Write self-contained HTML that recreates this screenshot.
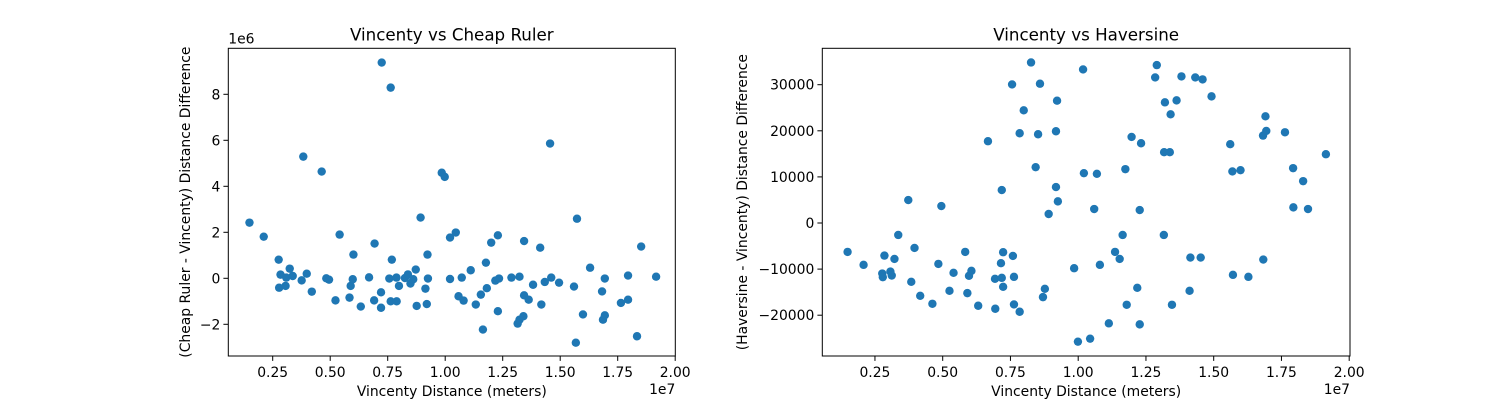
<!DOCTYPE html>
<html>
<head>
<meta charset="utf-8">
<style>
html,body{margin:0;padding:0;background:#fff;}
svg{display:block;font-family:"DejaVu Sans","Liberation Sans",sans-serif;}
</style>
</head>
<body>
<svg id="fig" width="1500" height="400" viewBox="0 0 1500 400" xmlns="http://www.w3.org/2000/svg">
  <rect width="1500" height="400" fill="#fff"/>
  <g id="left"></g>
  <g id="right"></g>
</svg>
<script>
// ---- Left chart data (x in 1e7 m, y in 1e6 m) ----
const cheapX = [0.149,0.211,0.276,0.284,0.278,0.306,0.324,0.309,0.337,0.383,0.376,0.398,0.420,0.463,0.483,0.495,0.523,0.541,0.584,0.589,0.598,0.601,0.633,0.669,0.693,0.691,0.721,0.721,0.724,0.763,0.768,0.757,0.763,0.788,0.789,0.799,0.825,0.838,0.849,0.861,0.872,0.876,0.893,0.914,0.920,0.923,0.925,0.985,0.998,1.021,1.021,1.046,1.058,1.072,1.080,1.111,1.133,1.155,1.164,1.177,1.181,1.200,1.218,1.229,1.229,1.234,1.288,1.323,1.315,1.323,1.340,1.343,1.343,1.363,1.382,1.413,1.418,1.433,1.456,1.461,1.495,1.560,1.568,1.573,1.599,1.630,1.682,1.686,1.694,1.694,1.764,1.795,1.795,1.834,1.852,1.917];
const cheapY = [2.42,1.81,0.81,0.16,-0.41,-0.33,0.42,0.03,0.10,5.29,-0.09,0.20,-0.58,4.64,0.0,-0.06,-0.96,1.90,-0.84,-0.33,-0.04,1.03,-1.23,0.04,1.51,-0.96,-0.61,-1.28,9.38,8.29,0.81,-0.01,-1.0,0.03,-1.0,-0.33,0.01,0.17,-0.23,-0.04,0.38,-1.2,2.64,-0.45,-1.12,1.03,-0.01,4.59,4.41,1.77,-0.03,1.99,-0.78,0.03,-0.97,0.35,-1.14,-0.71,-2.23,0.68,-0.43,1.55,-0.10,1.87,-1.43,-0.01,0.03,0.07,-1.97,-1.80,-1.65,1.62,-0.74,-0.93,-0.28,1.33,-1.14,-0.16,5.86,0.03,-0.19,-0.36,-2.80,2.59,-1.57,0.46,-0.57,-1.80,-1.61,-0.01,-1.07,0.12,-0.93,-2.52,1.38,0.07];
const cheapXTicks = [0.25,0.50,0.75,1.00,1.25,1.50,1.75,2.00];
const cheapYTicks = [-2,0,2,4,6,8];

// ---- Right chart data (x in 1e7 m, y in thousands of m) ----
const havX = [0.149,0.208,0.285,0.277,0.279,0.307,0.312,0.322,0.336,0.373,0.384,0.396,0.417,0.462,0.484,0.495,0.540,0.525,0.583,0.591,0.597,0.606,0.631,0.667,0.693,0.694,0.718,0.715,0.718,0.723,0.723,0.756,0.759,0.763,0.763,0.784,0.784,0.799,0.826,0.843,0.852,0.859,0.870,0.877,0.891,0.918,0.918,0.922,0.925,0.985,0.999,1.018,1.021,1.044,1.059,1.069,1.080,1.113,1.136,1.153,1.164,1.174,1.179,1.197,1.218,1.227,1.227,1.232,1.284,1.290,1.316,1.317,1.320,1.338,1.341,1.346,1.363,1.381,1.411,1.414,1.432,1.452,1.459,1.492,1.561,1.569,1.571,1.599,1.628,1.682,1.683,1.691,1.694,1.763,1.793,1.794,1.830,1.848,1.914];
const havY = [-6.27,-9.08,-7.07,-10.96,-11.75,-10.53,-11.39,-7.79,-2.60,4.97,-12.76,-5.41,-15.79,-17.52,-8.87,3.68,-10.81,-14.71,-6.27,-15.21,-11.46,-10.38,-17.95,17.74,-12.11,-18.60,7.14,-8.72,-11.90,-6.34,-13.84,30.06,-7.14,-11.68,-17.66,19.47,-19.25,24.44,34.82,12.11,19.25,30.21,-16.08,-14.28,1.95,19.90,7.79,26.53,4.69,-9.81,-25.74,33.31,10.81,-25.09,3.03,10.67,-9.08,-21.77,-6.27,-7.79,-2.60,11.68,-17.74,18.67,-14.06,2.81,-21.99,17.30,31.58,34.25,-2.60,15.36,26.17,15.36,23.58,-17.74,26.60,31.80,-14.71,-7.50,31.58,-7.50,31.15,27.47,17.09,11.18,-11.25,11.46,-11.68,18.96,-7.93,23.14,19.97,19.68,11.90,3.39,9.08,3.03,14.92];
const havXTicks = [0.25,0.50,0.75,1.00,1.25,1.50,1.75,2.00];
const havYTicks = [-20,-10,0,10,20,30];
const havYLabels = ["\u221220000","\u221210000","0","10000","20000","30000"];

const NS = "http://www.w3.org/2000/svg";
function mk(parent, tag, attrs, text) {
  const e = document.createElementNS(NS, tag);
  for (const k in attrs) e.setAttribute(k, attrs[k]);
  if (text !== undefined) e.textContent = text;
  parent.appendChild(e);
  return e;
}
function fmtTick(v){ return v < 0 ? "\u2212" + Math.abs(v) : String(v); }

function drawChart(g, cfg) {
  const {L, R, T, B, xs, ys, sx, sy, xt, yt, ytl, title, ylabel, yOffset} = cfg;
  // points
  for (let i = 0; i < xs.length; i++) {
    const c = mk(g, "circle", {cx: sx(xs[i]), cy: sy(ys[i]), r: 4.2, fill: "#1f77b4"});
    
    
  }
  // frame
  const f = mk(g, "rect", {x: L, y: T, width: R - L, height: B - T, fill: "none", stroke: "#000", "stroke-width": 1});
  
  
  // x ticks
  xt.forEach(v => {
    const x = sx(v);
    const t = mk(g, "line", {x1: x, x2: x, y1: B, y2: B + 4.9, stroke: "#000", "stroke-width": 1});
    
    
    const lb = mk(g, "text", {x: x, y: B + 21, "text-anchor": "middle", "font-size": 13.9, fill: "#000"}, v.toFixed(2));
    
    
  });
  // y ticks
  yt.forEach((v, i) => {
    const y = sy(v);
    const t = mk(g, "line", {x1: L - 4.9, x2: L, y1: y, y2: y, stroke: "#000", "stroke-width": 1});
    
    
    const lb = mk(g, "text", {x: L - 8, y: y + 5, "text-anchor": "end", "font-size": 13.9, fill: "#000"}, ytl ? ytl[i] : fmtTick(v));
    
    
  });
  // offset texts
  const ox = mk(g, "text", {x: R, y: B + 38, "text-anchor": "end", "font-size": 13.9, fill: "#000"}, "1e7");
  
  
  if (yOffset) {
    const oy = mk(g, "text", {x: L, y: T - 5, "text-anchor": "start", "font-size": 13.9, fill: "#000"}, yOffset);
    
    
  }
  // title
  const ti = mk(g, "text", {x: (L + R) / 2, y: T - 8, "text-anchor": "middle", "font-size": 16.7, fill: "#000"}, title);
  
  
  // x label
  const xl = mk(g, "text", {x: (L + R) / 2, y: B + 40, "text-anchor": "middle", "font-size": 13.9, fill: "#000"}, "Vincenty Distance (meters)");
  
  
  // y label
  const cy = (T + B) / 2;
  const yx = cfg.ylabelX;
  const yl = mk(g, "text", {x: yx, y: cy, "text-anchor": "middle", "font-size": 13.9, fill: "#000", transform: "rotate(-90 " + yx + " " + cy + ")"}, ylabel);
  
  
}

drawChart(document.getElementById("left"), {
  L: 228.3, R: 675.3, T: 48.3, B: 356,
  xs: cheapX, ys: cheapY,
  sx: v => 215.2 + v * 230,
  sy: v => 278.3 - v * 23,
  xt: cheapXTicks, yt: cheapYTicks,
  title: "Vincenty vs Cheap Ruler",
  ylabel: "(Cheap Ruler - Vincenty) Distance Difference",
  ylabelX: 190, yOffset: "1e6"
});
drawChart(document.getElementById("right"), {
  L: 822.3, R: 1350, T: 48.3, B: 356,
  xs: havX, ys: havY,
  sx: v => 807.2 + v * 271,
  sy: v => 223 - v * 4.61,
  xt: havXTicks, yt: havYTicks, ytl: havYLabels,
  title: "Vincenty vs Haversine",
  ylabel: "(Haversine - Vincenty) Distance Difference",
  ylabelX: 747, yOffset: null
});
</script>
</body>
</html>
